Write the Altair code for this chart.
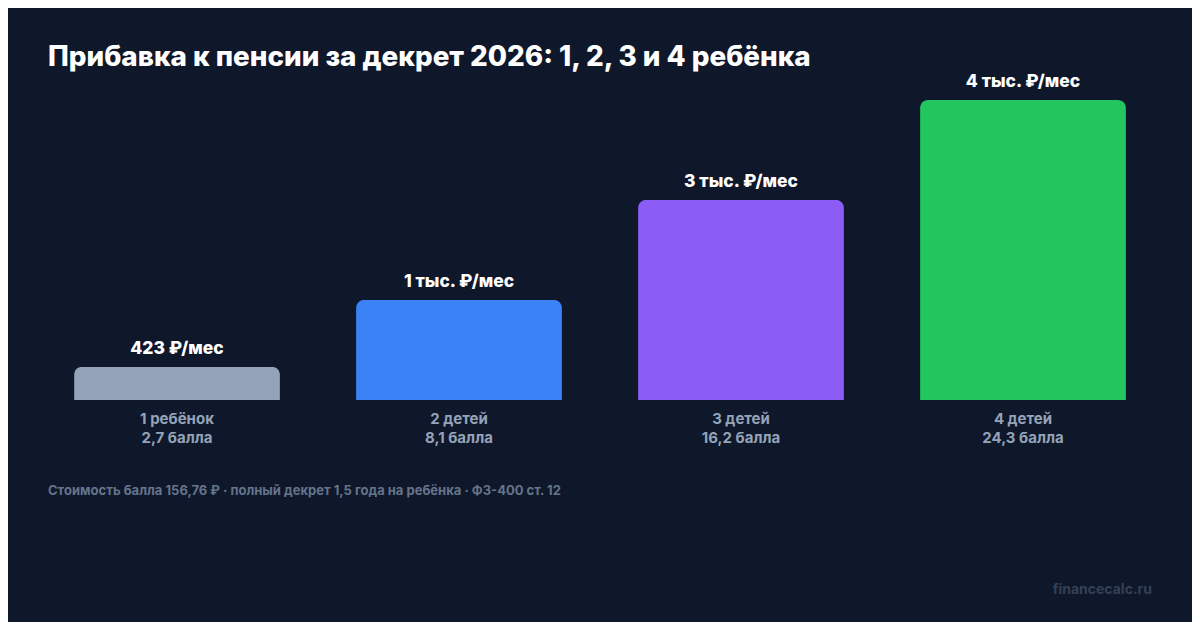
import altair as alt
import pandas as pd

categories = ["1 ребёнок", "2 детей", "3 детей", "4 детей"]
points_labels = ["2,7 балла", "8,1 балла", "16,2 балла", "24,3 балла"]
monthly_rub = [423, 1270, 2540, 3809]
value_labels = ["423 ₽/мес", "1 тыс. ₽/мес", "3 тыс. ₽/мес", "4 тыс. ₽/мес"]
colors = ["#94a3b8", "#3b82f6", "#8b5cf6", "#22c55e"]

title_text = "Прибавка к пенсии за декрет 2026: 1, 2, 3 и 4 ребёнка"
footnote_text = "Стоимость балла 156,76 ₽ · полный декрет 1,5 года на ребёнка · ФЗ-400 ст. 12"
watermark_text = "financecalc.ru"

df = pd.DataFrame({
    "cat": categories,
    "pts": points_labels,
    "val": monthly_rub,
    "lab": value_labels,
})

FONT = "Inter"
W, H = 1184, 614

xs = alt.Scale(domain=categories, range=[28, 1156], paddingInner=0.27, paddingOuter=0.135)
ys = alt.Scale(domain=[0, 3809], range=[392, 92])
cs = alt.Scale(domain=categories, range=colors)

base = alt.Chart(df)

bars = base.mark_bar(cornerRadiusTopLeft=8, cornerRadiusTopRight=8).encode(
    x=alt.X("cat:N", scale=xs, axis=None, sort=categories),
    y=alt.Y("val:Q", scale=ys, axis=None),
    color=alt.Color("cat:N", scale=cs, legend=None),
)

vals = base.mark_text(
    font=FONT, fontSize=17.5, fontWeight=800, color="#ffffff", baseline="bottom", dy=-9
).encode(
    x=alt.X("cat:N", scale=xs, axis=None, sort=categories),
    y=alt.Y("val:Q", scale=ys, axis=None),
    text="lab:N",
)

cat_lab = base.mark_text(
    font=FONT, fontSize=15, fontWeight=700, color="#94a3b8", baseline="middle"
).encode(
    x=alt.X("cat:N", scale=xs, axis=None, sort=categories),
    y=alt.value(411),
    text="cat:N",
)

pts_lab = base.mark_text(
    font=FONT, fontSize=15, fontWeight=700, color="#94a3b8", baseline="middle"
).encode(
    x=alt.X("cat:N", scale=xs, axis=None, sort=categories),
    y=alt.value(430),
    text="pts:N",
)

one = pd.DataFrame({"t": [title_text]})
title = alt.Chart(one).mark_text(
    font=FONT, fontSize=27.8, fontWeight=800, color="#ffffff", align="left", baseline="middle"
).encode(x=alt.value(40), y=alt.value(50), text="t:N")

foot = alt.Chart(pd.DataFrame({"t": [footnote_text]})).mark_text(
    font=FONT, fontSize=13, fontWeight=700, color="#64748b", align="left", baseline="middle"
).encode(x=alt.value(40), y=alt.value(483), text="t:N")

wm = alt.Chart(pd.DataFrame({"t": [watermark_text]})).mark_text(
    font=FONT, fontSize=14, fontWeight=700, color="#334155", align="right", baseline="middle"
).encode(x=alt.value(1144), y=alt.value(582), text="t:N")

chart = alt.layer(bars, vals, cat_lab, pts_lab, title, foot, wm).properties(
    width=W, height=H, background="#0f172a",
    autosize=alt.AutoSizeParams(type="none"), padding=0,
).configure_view(stroke=None)

chart.save("out.html", embed_options={"renderer": "svg", "actions": False})
